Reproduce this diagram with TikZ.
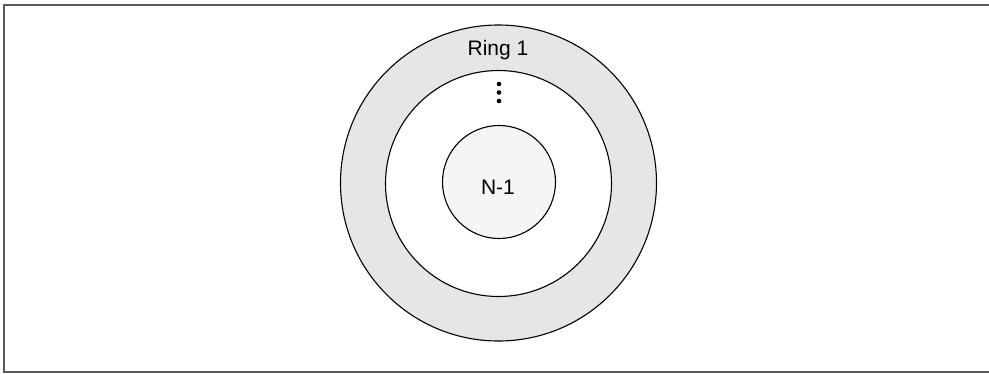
\documentclass[tikz,border=0pt]{standalone}
\usepackage{fontspec}
\setmainfont{Liberation Sans}
\definecolor{ringgray}{HTML}{E6E6E6}
\definecolor{coregray}{HTML}{F5F5F5}
\definecolor{framegray}{HTML}{5A5A5A}
\begin{document}
\begin{tikzpicture}[x=1pt,y=-1pt,
  frameline/.style={draw=framegray,line width=2pt},
  ringcircle/.style={circle,draw=black,line width=1.1pt,inner sep=0pt,outer sep=0pt},
  labeltext/.style={inner sep=0pt,anchor=base,font=\fontsize{21}{25}\selectfont},
  dotmark/.style={circle,fill=black,inner sep=0pt,minimum size=4.6pt}]
\useasboundingbox (0,0) rectangle (989,373);
\draw[frameline] (989,5) -- (4,5) -- (4,372) -- (989,372);
\node[ringcircle,fill=ringgray,minimum size=316pt] (ring1) at (498.5,183) {};
\node[ringcircle,fill=white,minimum size=226pt] (inner) at (498.5,183.5) {};
\node[ringcircle,fill=coregray,minimum size=113pt] (core) at (499,182) {};
\node[labeltext] (ringlabel) at (498,55) {Ring 1};
\node[labeltext] (corelabel) at (498,194) {N-1};
\node[dotmark] (dot1) at (499,84) {};
\node[dotmark] (dot2) at (499,92.5) {};
\node[dotmark] (dot3) at (499,101) {};
\end{tikzpicture}
\end{document}
